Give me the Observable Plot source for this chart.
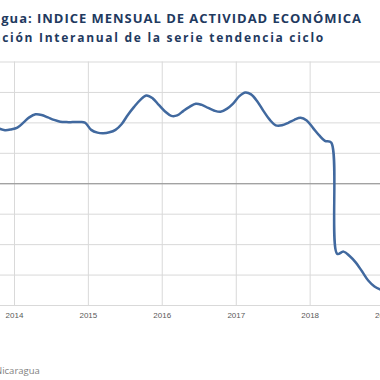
<!DOCTYPE html>
<html>
<head>
<meta charset="utf-8">
<script src="https://cdn.jsdelivr.net/npm/d3@7"></script>
<script src="https://cdn.jsdelivr.net/npm/@observablehq/plot@0.6"></script>
<style>
  html, body { margin: 0; padding: 0; background: #fff; }
  #wrap { position: relative; width: 380px; height: 380px; overflow: hidden; background: #fff; }
  .ttl { position: absolute; white-space: nowrap; font-family: "Open Sans", sans-serif; font-weight: 700; color: #1f3a60; }
  #title { right: 18px; top: 10px; font-size: 13px; line-height: 16px; }
  #subtitle { right: 55px; top: 30px; font-size: 12px; line-height: 15px; }
  #chart { position: absolute; left: 0; top: 56px; }
  #footer { position: absolute; left: -5px; top: 364px; font-family: "Open Sans", sans-serif; font-size: 9.5px; color: #7f7f7f; white-space: nowrap; }
</style>
</head>
<body>
<div id="wrap">
  <div id="title" class="ttl">Nicaragua: <span id="tfit">INDICE MENSUAL DE ACTIVIDAD ECONÓMICA</span></div>
  <div id="subtitle" class="ttl">Variación <span id="sfit">Interanual de la serie tendencia ciclo</span></div>
  <div id="chart"></div>
  <div id="footer">Nicaragua</div>
</div>
<script>
// Data: monthly year-on-year variation (%) of the trend-cycle series, starting Oct 2013
const startYear = 2013, startMonth = 9; // October 2013 (0-based month)
const values = [
  3.64, 3.52, 3.57,
  3.69, 4.03, 4.36, 4.56, 4.52, 4.36, 4.20, 4.08, 4.05, 4.05, 4.05, 4.02,
  3.54, 3.36, 3.32, 3.38, 3.54, 3.93, 4.52, 5.05, 5.51, 5.80, 5.61, 5.18,
  4.75, 4.46, 4.49, 4.79, 5.05, 5.26, 5.18, 4.98, 4.80, 4.73, 4.92, 5.25,
  5.74, 5.99, 5.87, 5.41, 4.79, 4.21, 3.84, 3.84, 4.00, 4.20, 4.33, 4.15,
  3.67, 3.18, 2.82, 2.71, -4.61, -4.46, -4.75, -5.18, -5.77, -6.36, -6.75, -6.95,
  -7.08
];
const yearTicks = [2014, 2015, 2016, 2017, 2018, 2019];
const yTicks = [-8, -6, -4, -2, 0, 2, 4, 6, 8];

const data = values.map((v, i) => ({
  date: new Date(Date.UTC(startYear, startMonth + i, 15)),
  value: v
}));
const tickDates = yearTicks.map(y => new Date(Date.UTC(y, 0, 1)));

const plot = Plot.plot({
  width: 380,
  height: 268,
  marginLeft: 0,
  marginRight: 0,
  marginTop: 5.5,
  marginBottom: 19,
  style: { fontFamily: "Liberation Sans, sans-serif", fontSize: "8px", overflow: "hidden", background: "#fff" },
  x: { type: "utc", domain: [tickDates[0], tickDates[tickDates.length - 1]], range: [14, 383.5] },
  y: { domain: [-8, 8], axis: null },
  marks: [
    Plot.gridY(yTicks, { stroke: "#d9d9d9", strokeOpacity: 1, strokeWidth: 1 }),
    Plot.gridX(tickDates, { stroke: "#d9d9d9", strokeOpacity: 1, strokeWidth: 1 }),
    Plot.ruleY([0], { stroke: "#8c8c8c", strokeWidth: 1 }),
    Plot.axisX(tickDates, { tickSize: 0, tickPadding: 7, color: "#595959", tickFormat: d => String(d.getUTCFullYear()), label: null }),
    Plot.line(data, { x: "date", y: "value", stroke: "#41699f", strokeWidth: 2.5, curve: "catmull-rom", clip: true })
  ]
});
document.getElementById("chart").appendChild(plot);

// fit visible title parts to the reference widths (spacing applied to whole line)
function fit(lineId, partId, target) {
  const el = document.getElementById(partId);
  const w = el.getBoundingClientRect().width;
  const n = el.textContent.length;
  document.getElementById(lineId).style.letterSpacing = ((target - w) / n) + "px";
}
fit("title", "tfit", 325);
fit("subtitle", "sfit", 286);
</script>
</body>
</html>
